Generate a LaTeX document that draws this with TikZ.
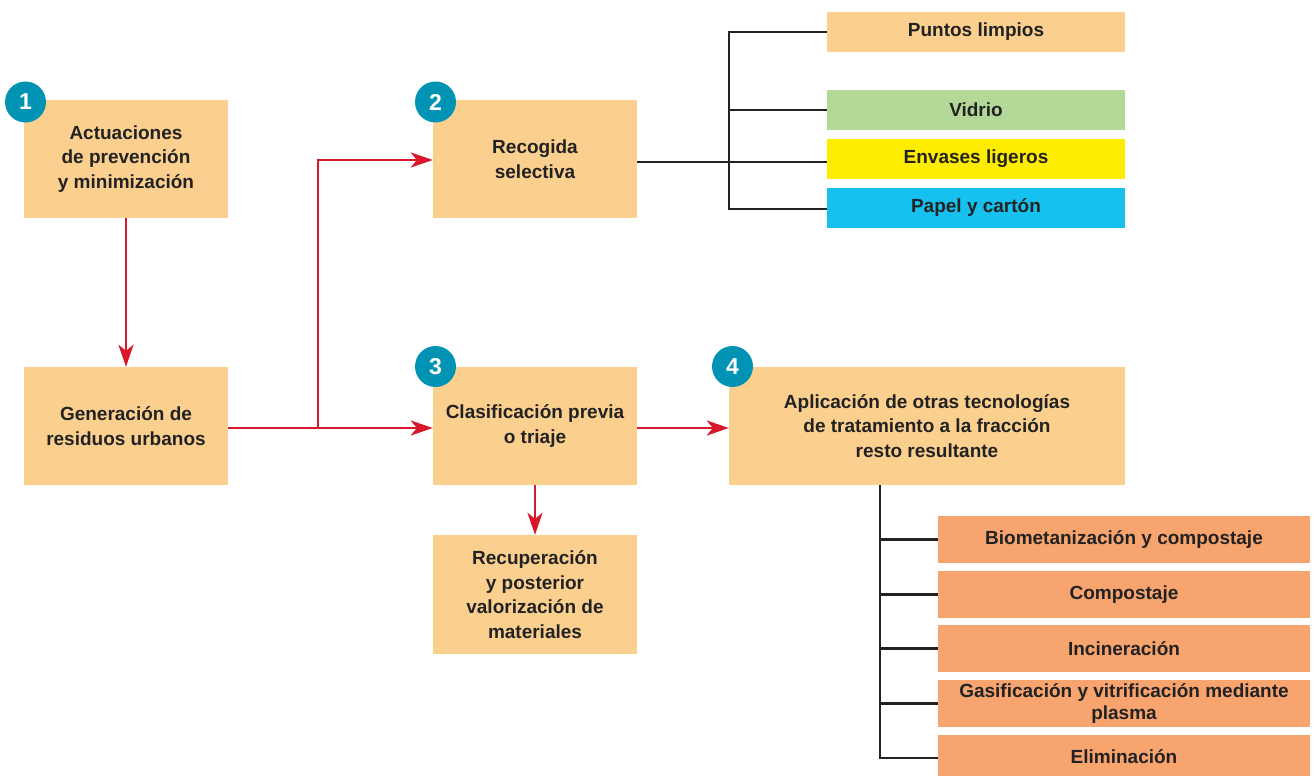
\documentclass[tikz,border=0pt]{standalone}
\usepackage{fontspec}
\setmainfont{Liberation Sans}
\usetikzlibrary{arrows.meta}
\definecolor{boxor}{HTML}{FBD08F}
\definecolor{boxgr}{HTML}{B3D897}
\definecolor{boxye}{HTML}{FFED00}
\definecolor{boxcy}{HTML}{16C1F0}
\definecolor{boxdk}{HTML}{F7A46E}
\definecolor{teal}{HTML}{0093B4}
\definecolor{arrred}{HTML}{D7172B}
\definecolor{txt}{HTML}{222222}
\definecolor{linek}{HTML}{222222}
\tikzset{
  box/.style={fill=boxor, inner sep=0pt, align=center, text=txt,
    font=\fontsize{19}{24.5}\selectfont\bfseries},
  bigbox/.style={box, minimum width=204pt, minimum height=118pt},
  tagbox/.style={box, minimum width=298pt, minimum height=40pt},
  techbox/.style={box, fill=boxdk, minimum width=372pt, minimum height=47pt,
    font=\fontsize{19}{22}\selectfont\bfseries},
  num/.style={circle, fill=teal, minimum size=41pt, inner sep=0pt, text=white,
    font=\fontsize{23}{23}\selectfont\bfseries},
  redarrow/.style={draw=arrred, line width=2.8pt, -{Stealth[length=22pt,width=15pt,inset=6pt]}},
  tree/.style={draw=linek, line width=2.8pt}
}
\begin{document}
\begin{tikzpicture}[x=1pt,y=-1pt]
\useasboundingbox (0,0) rectangle (1315,776);
% main boxes
\node[bigbox] (act) at (126,159) {Actuaciones\\de prevención\\y minimización};
\node[bigbox] (rec) at (535,159) {Recogida\\selectiva};
\node[bigbox] (gen) at (126,426) {Generación de\\residuos urbanos};
\node[bigbox] (cla) at (535,426) {Clasificación previa\\o triaje};
\node[bigbox, minimum width=396pt] (apl) at (927,426) {Aplicación de otras tecnologías\\de tratamiento a la fracción\\resto resultante};
\node[bigbox, minimum height=119pt] (recu) at (535,594.5) {Recuperación\\y posterior\\valorización de\\materiales};
% number circles
\node[num] (n1) at (25.5,102) {1};
\node[num] (n2) at (435.5,102) {2};
\node[num] (n3) at (435.5,366.5) {3};
\node[num] (n4) at (732.5,366.5) {4};
% selective collection targets
\node[tagbox] (pun) at (976,32) {Puntos limpios};
\node[tagbox, fill=boxgr] (vid) at (976,110) {Vidrio};
\node[tagbox, fill=boxye] (env) at (976,159) {Envases ligeros};
\node[tagbox, fill=boxcy] (pap) at (976,208) {Papel y cartón};
% technologies
\node[techbox] (bio) at (1124,539.5) {Biometanización y compostaje};
\node[techbox] (com) at (1124,594.5) {Compostaje};
\node[techbox] (inc) at (1124,648.5) {Incineración};
\node[techbox] (gas) at (1124,703.5) {Gasificación y vitrificación mediante\\plasma};
\node[techbox, minimum height=44pt] (eli) at (1124,757) {Eliminación};
% red arrows
\coordinate (split) at (318,428);
\draw[redarrow] (act.south) -- (gen.north);
\draw[redarrow] (gen.east |- split) -- (cla.west |- split);
\draw[redarrow] (split) |- (rec.west |- 0,160);
\draw[redarrow] (cla.east |- split) -- (apl.west |- split);
\draw[redarrow] (cla.south) -- (recu.north);
% black tree (selective collection)
\coordinate (t1) at (729,32);
\coordinate (t2) at (729,209);
\draw[tree] (rec.east |- 0,162) -- (env.west |- 0,162);
\draw[tree] (pun.west) -- (t1) -- (t2) -- (pap.west |- t2);
\draw[tree] (vid.west) -- (vid.west -| t1);
% black tree (technologies)
\coordinate (b1) at (880,485);
\coordinate (b2) at (880,758);
\draw[tree] (b1) -- (b2) -- (eli.west |- b2);
\draw[tree] (bio.west) -- (bio.west -| b1);
\draw[tree] (com.west) -- (com.west -| b1);
\draw[tree] (inc.west) -- (inc.west -| b1);
\draw[tree] (gas.west) -- (gas.west -| b1);
\end{tikzpicture}
\end{document}
